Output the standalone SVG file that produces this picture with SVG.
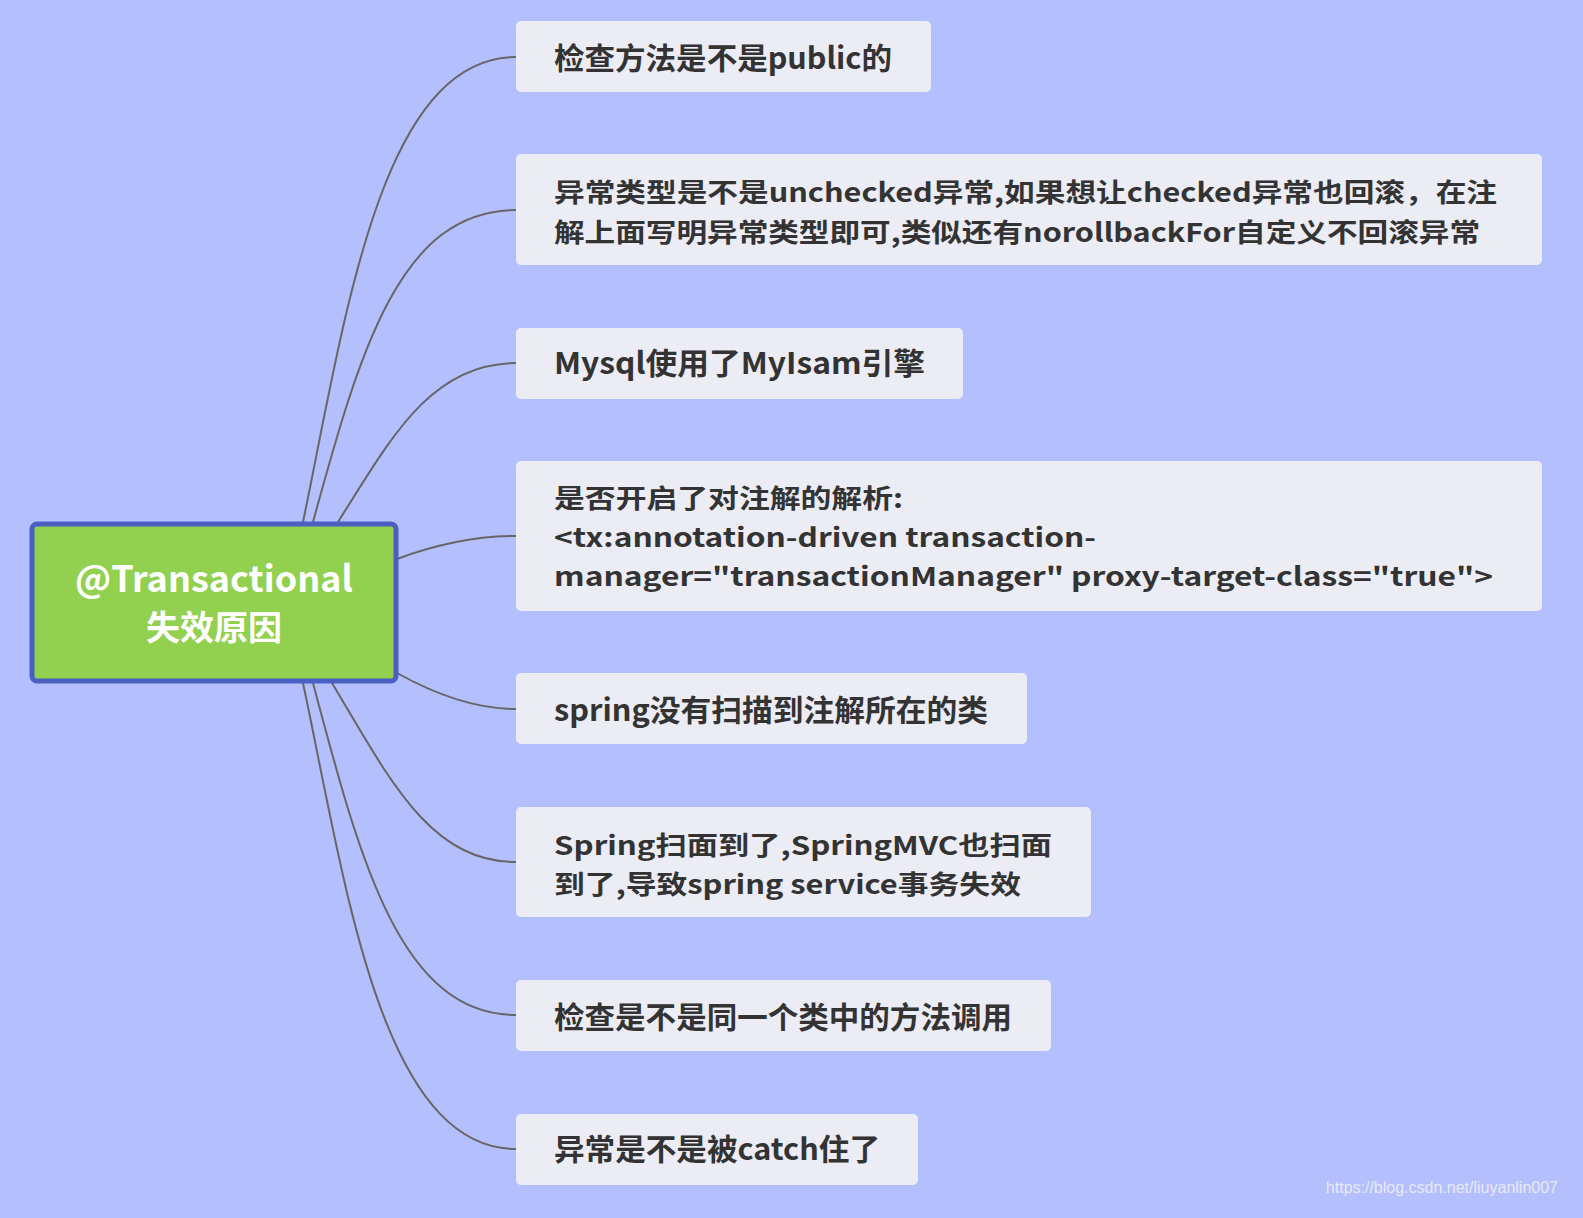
<svg xmlns="http://www.w3.org/2000/svg" width="1583" height="1218" viewBox="0 0 1583 1218">
<style>
.b{fill:#ebecf4}
.t{font-family:"Noto Sans CJK SC","Liberation Sans",sans-serif;font-weight:bold;font-size:30px;fill:#333}
.m{font-size:26px}
.c{fill:none;stroke:#666;stroke-width:2}
</style>
<rect width="1583" height="1218" fill="#b4c0fd"/>
<g id="connectors">
<path class="c" d="M303 522 C345 320 380 57 516 57"/>
<path class="c" d="M313 522 C360 350 400 210 516 210"/>
<path class="c" d="M338 522 C390 440 430 363 516 363"/>
<path class="c" d="M397 559 C440 543 480 536 516 536"/>
<path class="c" d="M397 673 C440 697 480 709 516 709"/>
<path class="c" d="M332 683 C390 780 430 862 516 862"/>
<path class="c" d="M313 683 C360 860 400 1015 516 1015"/>
<path class="c" d="M303 683 C345 880 380 1149 516 1149"/>
</g>
<g id="root">
<rect x="32" y="524" width="364" height="157" rx="5" fill="#92d050" stroke="#4a5fc1" stroke-width="5"/>
<text x="214" y="592" text-anchor="middle" font-family="'Noto Sans CJK SC','Liberation Sans',sans-serif" font-weight="bold" font-size="36" fill="#fff">@Transactional</text>
<text x="214" y="640" text-anchor="middle" font-family="'Noto Sans CJK SC','Liberation Sans',sans-serif" font-weight="bold" font-size="34" fill="#fff">失效原因</text>
</g>
<g id="n1"><rect class="b" x="516" y="21" width="415" height="71" rx="5"/><text class="t" x="554" y="69" textLength="338" lengthAdjust="spacingAndGlyphs">检查方法是不是public的</text></g>
<g id="n2"><rect class="b" x="516" y="154" width="1026" height="111" rx="5"/><text class="t m" x="554" y="202" textLength="943" lengthAdjust="spacingAndGlyphs">异常类型是不是unchecked异常,如果想让checked异常也回滚，在注</text><text class="t m" x="554" y="242" textLength="926" lengthAdjust="spacingAndGlyphs">解上面写明异常类型即可,类似还有norollbackFor自定义不回滚异常</text></g>
<g id="n3"><rect class="b" x="516" y="328" width="447" height="71" rx="5"/><text class="t" x="554" y="374" textLength="371" lengthAdjust="spacingAndGlyphs">Mysql使用了MyIsam引擎</text></g>
<g id="n4"><rect class="b" x="516" y="461" width="1026" height="150" rx="5"/><text class="t m" x="554" y="508" textLength="349" lengthAdjust="spacingAndGlyphs">是否开启了对注解的解析:</text><text class="t m" x="554" y="547" textLength="542" lengthAdjust="spacingAndGlyphs">&lt;tx:annotation-driven transaction-</text><text class="t m" x="554" y="586" textLength="939" lengthAdjust="spacingAndGlyphs">manager="transactionManager" proxy-target-class="true"&gt;</text></g>
<g id="n5"><rect class="b" x="516" y="673" width="511" height="71" rx="5"/><text class="t" x="554" y="721" textLength="434" lengthAdjust="spacingAndGlyphs">spring没有扫描到注解所在的类</text></g>
<g id="n6"><rect class="b" x="516" y="807" width="575" height="110" rx="5"/><text class="t m" x="554" y="855" textLength="498" lengthAdjust="spacingAndGlyphs">Spring扫面到了,SpringMVC也扫面</text><text class="t m" x="554" y="894" textLength="467" lengthAdjust="spacingAndGlyphs">到了,导致spring service事务失效</text></g>
<g id="n7"><rect class="b" x="516" y="980" width="535" height="71" rx="5"/><text class="t" x="554" y="1028" textLength="458" lengthAdjust="spacingAndGlyphs">检查是不是同一个类中的方法调用</text></g>
<g id="n8"><rect class="b" x="516" y="1114" width="402" height="71" rx="5"/><text class="t" x="554" y="1160" textLength="326" lengthAdjust="spacingAndGlyphs">异常是不是被catch住了</text></g>
<text x="1558" y="1193" text-anchor="end" font-family="'Liberation Sans',sans-serif" font-size="16" fill="#e8e8f0">https://blog.csdn.net/liuyanlin007</text>
</svg>
